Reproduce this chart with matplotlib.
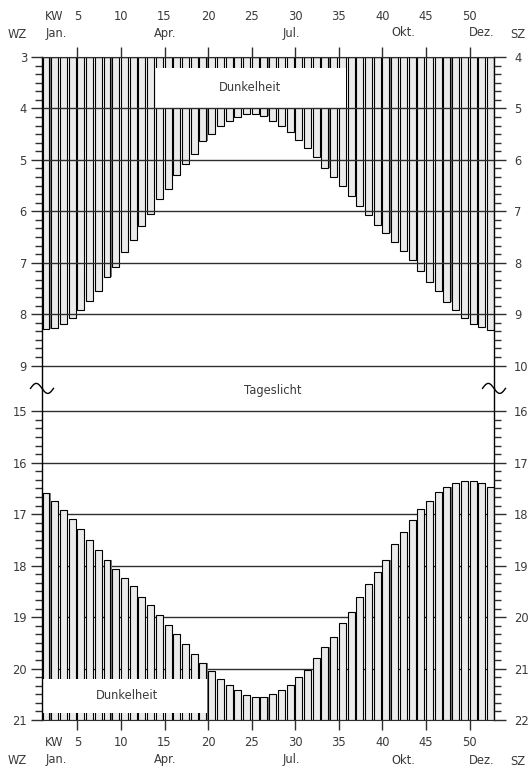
import numpy as np
import matplotlib
matplotlib.use('Agg')
import matplotlib.pyplot as plt
from matplotlib.patches import Rectangle
from matplotlib.lines import Line2D
from matplotlib.ticker import FixedLocator, NullFormatter
from matplotlib.transforms import blended_transform_factory

plt.rcParams['font.family'] = ['DejaVu Sans']

W, H = 530, 769

# Kalenderwochen und Zeiten (WZ, Stunden dezimal)
kw = np.arange(1, 53)
sonnenaufgang = [8.29, 8.265, 8.20, 8.07, 7.92, 7.74, 7.55, 7.285, 7.09, 6.79,
                 6.56, 6.28, 6.05, 5.77, 5.56, 5.295, 5.09, 4.88, 4.635, 4.50,
                 4.335, 4.24, 4.175, 4.11, 4.11, 4.15, 4.24, 4.335, 4.45, 4.61,
                 4.775, 4.95, 5.15, 5.335, 5.50, 5.705, 5.90, 6.07, 6.27, 6.42,
                 6.60, 6.77, 6.95, 7.16, 7.37, 7.56, 7.76, 7.93, 8.075, 8.20,
                 8.255, 8.30]
sonnenuntergang = [16.58, 16.74, 16.92, 17.10, 17.29, 17.50, 17.70, 17.885, 18.065, 18.245,
                   18.40, 18.60, 18.77, 18.96, 19.16, 19.32, 19.52, 19.71, 19.885, 20.05,
                   20.21, 20.325, 20.42, 20.52, 20.55, 20.55, 20.495, 20.42, 20.32, 20.16,
                   20.03, 19.79, 19.59, 19.38, 19.11, 18.91, 18.60, 18.36, 18.12, 17.89,
                   17.57, 17.35, 17.11, 16.905, 16.74, 16.575, 16.465, 16.39, 16.355, 16.355,
                   16.40, 16.465]
kw_ticks = [5, 10, 15, 20, 25, 30, 35, 40, 45, 50]
monate = ['Jan.', 'Apr.', 'Jul.', 'Okt.', 'Dez.']
monat_pos = [2.2, 14.65, 29.1, 42.0, 51.0]
stunden_oben = [3, 4, 5, 6, 7, 8, 9]
stunden_unten = [15, 16, 17, 18, 19, 20, 21]

TXT = '#3a3a3a'
LINE = '#2e2e2e'
FILL = '#ebebeb'
SHADOW = '#7a7a7a'
FS = 8.3
PT = 0.72  # Pixel -> Punkt bei 100 dpi


def fx(px):
    return px / W


def fy(py):
    return 1 - py / H


fig = plt.figure(figsize=(W / 100, H / 100), dpi=100)
fig.patch.set_facecolor('white')

brk = 388.4
ax_top = fig.add_axes([fx(42), fy(brk), fx(494) - fx(42), fy(57) - fy(brk)])
ax_bot = fig.add_axes([fx(42), fy(720), fx(494) - fx(42), fy(brk) - fy(720)])

ax_top.set_ylim(9.445, 3)
ax_bot.set_ylim(21, 14.555)

for ax, std, top in [(ax_top, stunden_oben, True), (ax_bot, stunden_unten, False)]:
    ax.set_xlim(0.541, 52.40)
    ax.patch.set_alpha(0)
    for s in ['left', 'right']:
        ax.spines[s].set_color('black')
        ax.spines[s].set_linewidth(1.0)
    if top:
        ax.spines['bottom'].set_visible(False)
        ax.spines['top'].set_color(LINE)
        ax.xaxis.tick_top()
    else:
        ax.spines['top'].set_visible(False)
        ax.spines['bottom'].set_color(LINE)
        ax.xaxis.tick_bottom()
    ax.set_xticks([k - 0.4 for k in kw_ticks])
    ax.xaxis.set_major_formatter(NullFormatter())
    ax.tick_params(axis='x', length=10 * PT, width=1.0, color=LINE, direction='out')

    minors = [m for m in np.arange(std[0], std[-1] + 0.01, 1 / 6)
              if abs(m - round(m)) > 0.01]

    # Stundenlinien
    for s in std:
        ax.axhline(s, color=LINE, lw=1.0, zorder=2.5 if top else 0.5)

    axr = ax.twinx()
    axr.set_ylim(ax.get_ylim())
    for a, labels, ln, pad in [(ax, [str(s) for s in std], 11, 4),
                               (axr, [str(s + 1) for s in std], 12, 8)]:
        a.yaxis.set_major_locator(FixedLocator(std))
        a.yaxis.set_minor_locator(FixedLocator(minors))
        a.set_yticklabels(labels)
        a.tick_params(axis='y', which='major', length=ln * PT, width=1.0,
                      color=LINE, direction='out', pad=pad * PT,
                      labelsize=FS, labelcolor=TXT)
        a.tick_params(axis='y', which='minor', length=7 * PT, width=1.0,
                      color=LINE, direction='out')
    for s in axr.spines.values():
        s.set_visible(False)

# Balken oben: von 3 Uhr bis Sonnenaufgang, unten: Sonnenuntergang bis 21 Uhr
auf = np.array(sonnenaufgang)
unt = np.array(sonnenuntergang)
ax_top.bar(kw + 0.13, auf - 3, bottom=3.0, width=0.8, color=SHADOW,
           edgecolor='none', zorder=1.4)
ax_top.bar(kw, auf - 3, bottom=3, width=0.8, color=FILL,
           edgecolor='black', linewidth=0.8, zorder=1.5)
ax_bot.bar(kw + 0.13, 21 - unt, bottom=unt, width=0.8, color=SHADOW,
           edgecolor='none', zorder=1.4)
ax_bot.bar(kw, 21 - unt, bottom=unt, width=0.8, color=FILL,
           edgecolor='black', linewidth=0.8, zorder=1.5)

# weisse Felder
ax_top.add_patch(Rectangle((13.6, 3.22), 35.42 - 13.6, 4.0 - 3.22,
                           facecolor='white', edgecolor='none', zorder=2))
ax_top.text(24.4, 3.6, 'Dunkelheit', ha='center', va='center', fontsize=FS,
            color=TXT, zorder=3)
ax_bot.add_patch(Rectangle((0.541, 20.2), 19.45 - 0.541, 20.86 - 20.2,
                           facecolor='white', edgecolor='none', zorder=2))
ax_bot.text(10.3, 20.53, 'Dunkelheit', ha='center', va='center', fontsize=FS,
            color=TXT, zorder=3)

fig.text(fx(273), fy(390), 'Tageslicht', ha='center', va='center',
         fontsize=FS, color=TXT)

# Bruchzeichen
t = np.linspace(0, 1, 60)
for cx in [42, 494]:
    xs = cx - 11.5 + 23 * t
    ys = brk - 5 * np.sin(2 * np.pi * t)
    fig.add_artist(Line2D(fx(xs), fy(ys), color='black', lw=1.0,
                          transform=fig.transFigure))

# Wochen- und Monatsbeschriftung
for ax, y_kw, y_mon in [(ax_top, 16, 33), (ax_bot, 743, 760)]:
    tr = blended_transform_factory(ax.transData, fig.transFigure)
    ax.text(1.9, fy(y_kw), 'KW', ha='center', va='center', fontsize=FS,
            color=TXT, transform=tr)
    for k in kw_ticks:
        ax.text(k - 0.4, fy(y_kw), str(k), ha='center', va='center',
                fontsize=FS, color=TXT, transform=tr)
    for m, p in zip(monate, monat_pos):
        ax.text(p, fy(y_mon), m, ha='center', va='center', fontsize=FS,
                color=TXT, transform=tr)
    fig.text(fx(17), fy(y_mon + 1), 'WZ', ha='center', va='center',
             fontsize=FS, color=TXT)
    fig.text(fx(518), fy(y_mon + 1.5), 'SZ', ha='center', va='center',
             fontsize=FS, color=TXT)

fig.savefig('out.png', dpi=100)
